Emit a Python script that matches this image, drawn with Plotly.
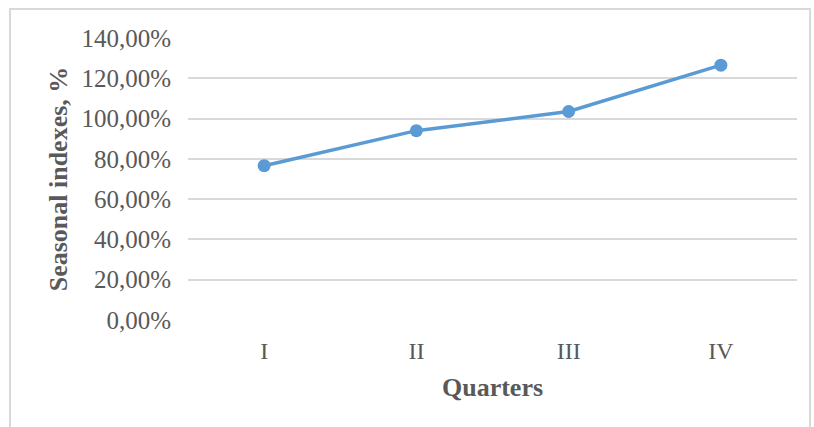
import plotly.graph_objects as go

quarters = ["I", "II", "III", "IV"]
seasonal_index = [76.6, 94.0, 103.5, 126.5]
y_tick_vals = [0, 20, 40, 60, 80, 100, 120, 140]
y_tick_text = ["0,00%", "20,00%", "40,00%", "60,00%", "80,00%", "100,00%", "120,00%", "140,00%"]

FONT = "Liberation Serif"
GRAY = "#595959"

fig = go.Figure()
fig.add_trace(go.Scatter(
    x=quarters, y=seasonal_index, mode="lines+markers",
    line=dict(color="#5b9bd5", width=3.5),
    marker=dict(color="#5b9bd5", size=13),
    showlegend=False,
))

fig.update_layout(
    width=814, height=427,
    margin=dict(l=188, r=17, t=38, b=107),
    paper_bgcolor="white", plot_bgcolor="white",
    font=dict(family=FONT, color=GRAY),
    xaxis=dict(
        type="category", range=[-0.5, 3.5], showgrid=False, zeroline=False, showline=False,
        tickfont=dict(family=FONT, size=24, color=GRAY),
        ticks="", ticklabelstandoff=14,
        title=dict(text="<b>Quarters</b>", font=dict(family=FONT, size=26, color=GRAY), standoff=14),
    ),
    yaxis=dict(
        range=[0, 140], tickvals=y_tick_vals, ticktext=y_tick_text,
        showgrid=True, gridcolor="#d9d9d9", gridwidth=1.5, zeroline=False, showline=False,
        tickfont=dict(family=FONT, size=25, color=GRAY),
        ticks="", ticklabelstandoff=16,
        title=dict(text="<b>Seasonal indexes, %</b>", font=dict(family=FONT, size=26, color=GRAY), standoff=6),
    ),
    shapes=[
        dict(type="rect", xref="paper", yref="paper",
             x0=(10 - 188) / 609, x1=(810 - 188) / 609,
             y0=-0.6, y1=(320 - 9) / 282,
             line=dict(color="#d9d9d9", width=2), fillcolor="rgba(0,0,0,0)", layer="below"),
    ],
)

fig.write_html("out.html")
